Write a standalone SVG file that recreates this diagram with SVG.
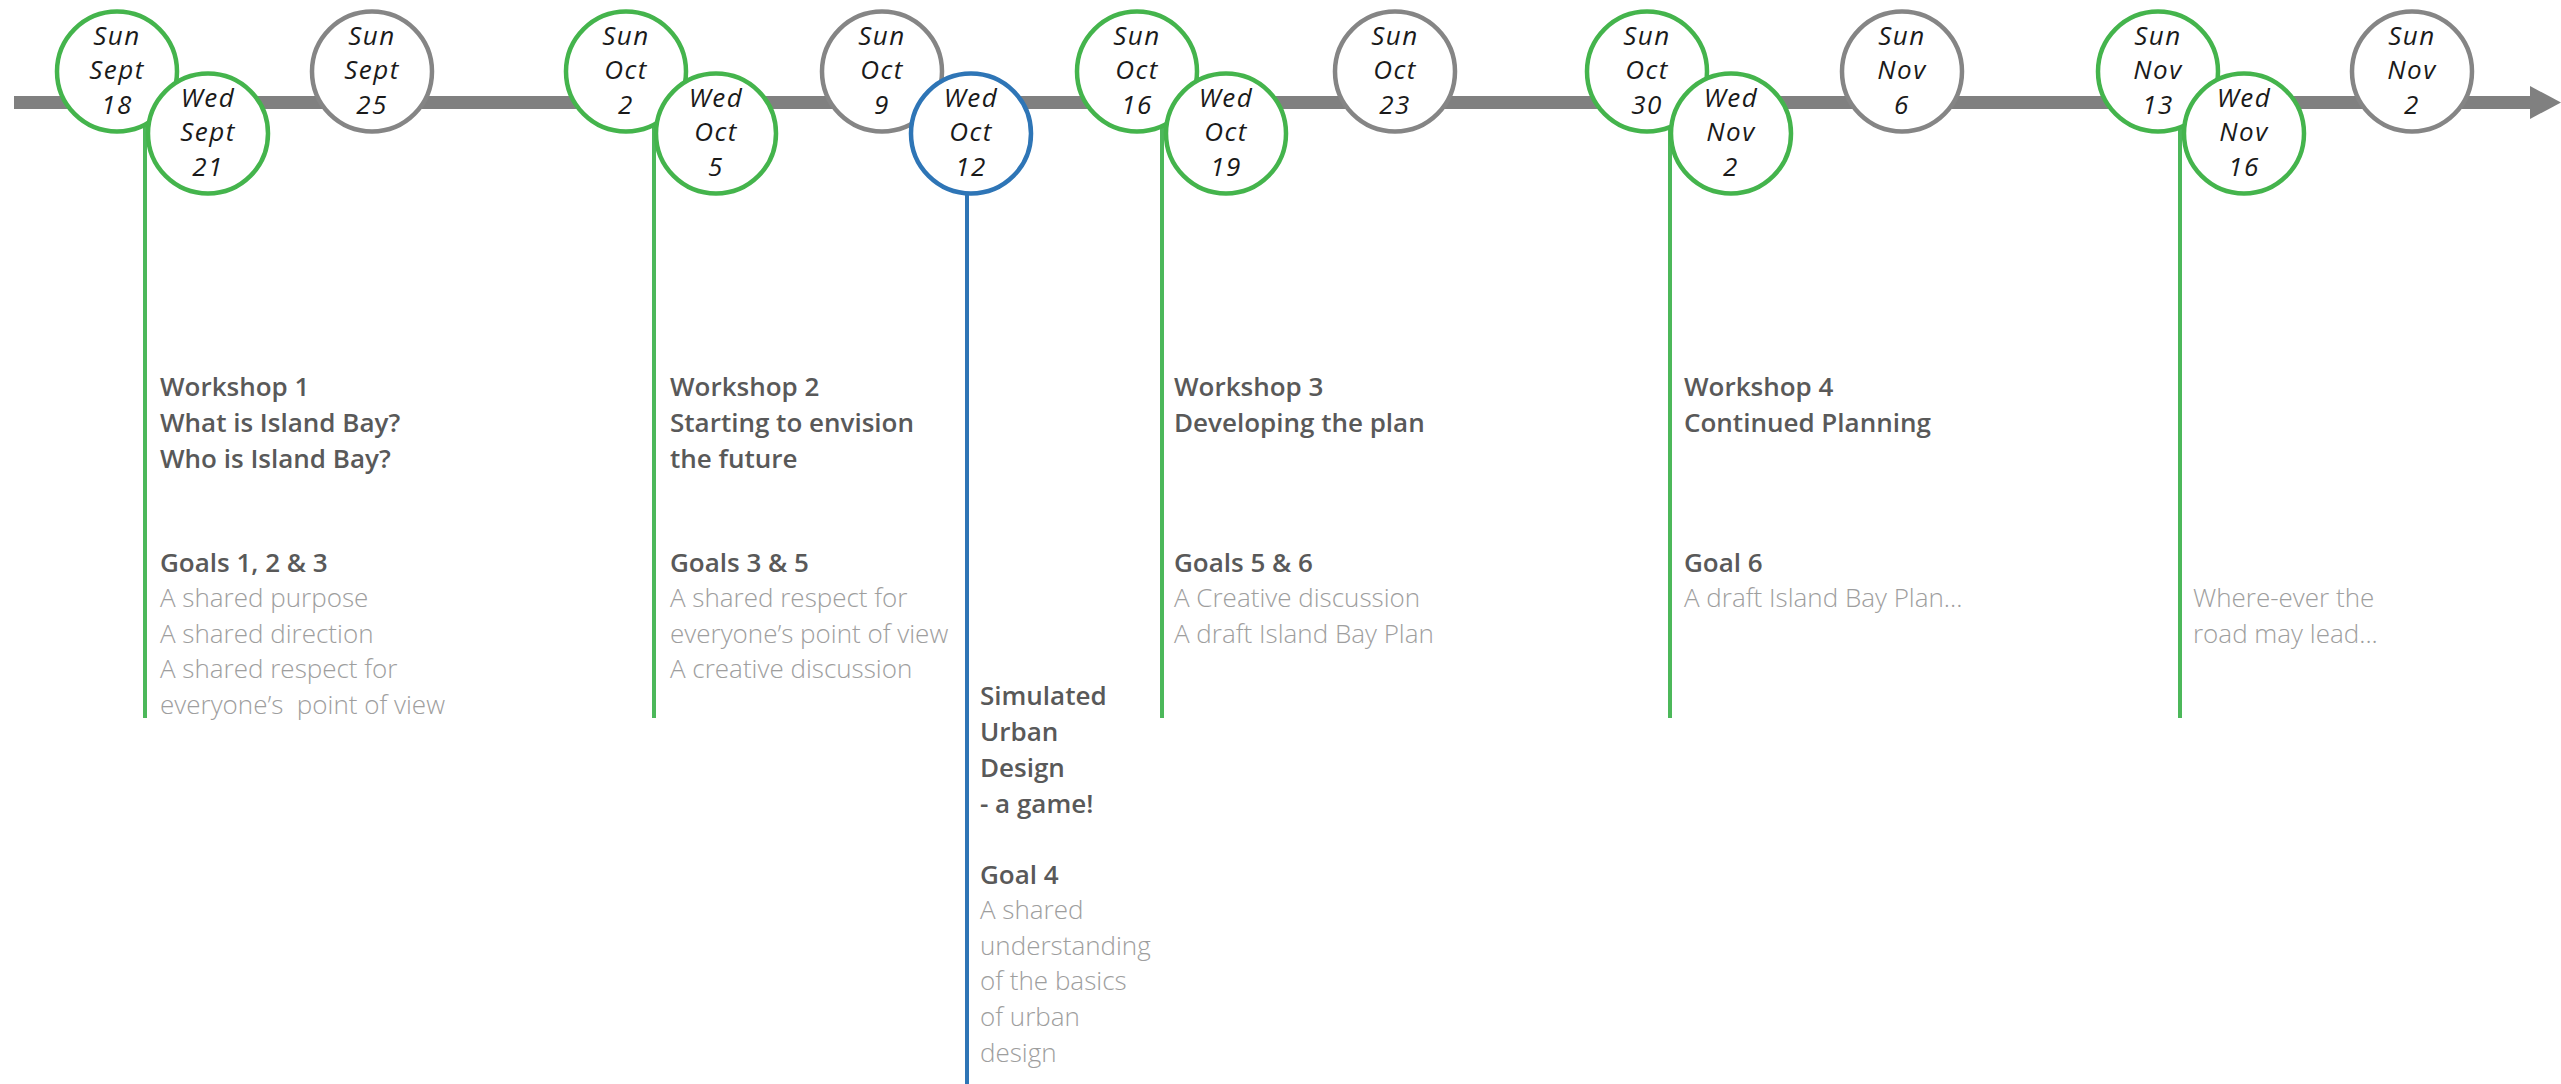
<svg xmlns="http://www.w3.org/2000/svg" width="2561" height="1084" viewBox="0 0 2561 1084">
<style>
.bg{fill:#ffffff}
.sun{fill:#ffffff;stroke:#44b44c;stroke-width:4.5}
.grey{fill:#ffffff;stroke:#858585;stroke-width:4.5}
.blue{fill:#ffffff;stroke:#2e75b6;stroke-width:4.5}
.date{font-family:"Open Sans","Noto Sans",sans-serif;font-style:italic;font-size:26px;letter-spacing:1.5px;fill:#1a1a1a;text-anchor:middle}
.h{font-family:"Open Sans","Noto Sans",sans-serif;font-weight:600;font-size:26px;fill:#595959}
.b{font-family:"Open Sans","Noto Sans",sans-serif;font-weight:300;font-size:26px;fill:#9e9e9e}
.gl{stroke:#4cb85a;stroke-width:4;fill:none}
.bl{stroke:#2e75b6;stroke-width:4;fill:none}
</style>
<rect class="bg" x="0" y="0" width="2561" height="1084"/>
<g id="connectors">
  <rect x="14" y="96" width="2524" height="13" fill="#808080"/>
  <polygon points="2530,86 2561,102.5 2530,119" fill="#808080"/>
  <line class="gl" x1="145" y1="122" x2="145" y2="718"/>
  <line class="gl" x1="654" y1="122" x2="654" y2="718"/>
  <line class="bl" x1="967" y1="190" x2="967" y2="1084"/>
  <line class="gl" x1="1162" y1="122" x2="1162" y2="718"/>
  <line class="gl" x1="1670" y1="122" x2="1670" y2="718"/>
  <line class="gl" x1="2180" y1="122" x2="2180" y2="718"/>
</g>
<g id="sun-sept-18"><circle class="sun" cx="117" cy="71.5" r="60"/><text class="date" x="117" y="45">Sun</text><text class="date" x="117" y="79">Sept</text><text class="date" x="117" y="114">18</text></g>
<g id="wed-sept-21"><circle class="sun" cx="208" cy="133.5" r="60"/><text class="date" x="208" y="107">Wed</text><text class="date" x="208" y="141">Sept</text><text class="date" x="208" y="176">21</text></g>
<g id="sun-sept-25"><circle class="grey" cx="372" cy="71.5" r="60"/><text class="date" x="372" y="45">Sun</text><text class="date" x="372" y="79">Sept</text><text class="date" x="372" y="114">25</text></g>
<g id="sun-oct-2"><circle class="sun" cx="626" cy="71.5" r="60"/><text class="date" x="626" y="45">Sun</text><text class="date" x="626" y="79">Oct</text><text class="date" x="626" y="114">2</text></g>
<g id="wed-oct-5"><circle class="sun" cx="716" cy="133.5" r="60"/><text class="date" x="716" y="107">Wed</text><text class="date" x="716" y="141">Oct</text><text class="date" x="716" y="176">5</text></g>
<g id="sun-oct-9"><circle class="grey" cx="882" cy="71.5" r="60"/><text class="date" x="882" y="45">Sun</text><text class="date" x="882" y="79">Oct</text><text class="date" x="882" y="114">9</text></g>
<g id="wed-oct-12"><circle class="blue" cx="971" cy="133.5" r="60"/><text class="date" x="971" y="107">Wed</text><text class="date" x="971" y="141">Oct</text><text class="date" x="971" y="176">12</text></g>
<g id="sun-oct-16"><circle class="sun" cx="1137" cy="71.5" r="60"/><text class="date" x="1137" y="45">Sun</text><text class="date" x="1137" y="79">Oct</text><text class="date" x="1137" y="114">16</text></g>
<g id="wed-oct-19"><circle class="sun" cx="1226" cy="133.5" r="60"/><text class="date" x="1226" y="107">Wed</text><text class="date" x="1226" y="141">Oct</text><text class="date" x="1226" y="176">19</text></g>
<g id="sun-oct-23"><circle class="grey" cx="1395" cy="71.5" r="60"/><text class="date" x="1395" y="45">Sun</text><text class="date" x="1395" y="79">Oct</text><text class="date" x="1395" y="114">23</text></g>
<g id="sun-oct-30"><circle class="sun" cx="1647" cy="71.5" r="60"/><text class="date" x="1647" y="45">Sun</text><text class="date" x="1647" y="79">Oct</text><text class="date" x="1647" y="114">30</text></g>
<g id="wed-nov-2"><circle class="sun" cx="1731" cy="133.5" r="60"/><text class="date" x="1731" y="107">Wed</text><text class="date" x="1731" y="141">Nov</text><text class="date" x="1731" y="176">2</text></g>
<g id="sun-nov-6"><circle class="grey" cx="1902" cy="71.5" r="60"/><text class="date" x="1902" y="45">Sun</text><text class="date" x="1902" y="79">Nov</text><text class="date" x="1902" y="114">6</text></g>
<g id="sun-nov-13"><circle class="sun" cx="2158" cy="71.5" r="60"/><text class="date" x="2158" y="45">Sun</text><text class="date" x="2158" y="79">Nov</text><text class="date" x="2158" y="114">13</text></g>
<g id="wed-nov-16"><circle class="sun" cx="2244" cy="133.5" r="60"/><text class="date" x="2244" y="107">Wed</text><text class="date" x="2244" y="141">Nov</text><text class="date" x="2244" y="176">16</text></g>
<g id="sun-nov-2-last"><circle class="grey" cx="2412" cy="71.5" r="60"/><text class="date" x="2412" y="45">Sun</text><text class="date" x="2412" y="79">Nov</text><text class="date" x="2412" y="114">2</text></g>
<g id="workshop-1">
  <text class="h" x="160" y="396">Workshop 1</text>
  <text class="h" x="160" y="432">What is Island Bay?</text>
  <text class="h" x="160" y="468">Who is Island Bay?</text>
  <text class="h" x="160" y="572">Goals 1, 2 &amp; 3</text>
  <text class="b" x="160" y="607">A shared purpose</text>
  <text class="b" x="160" y="643">A shared direction</text>
  <text class="b" x="160" y="678">A shared respect for</text>
  <text class="b" x="160" y="714" xml:space="preserve">everyone’s  point of view</text>
</g>
<g id="workshop-2">
  <text class="h" x="670" y="396">Workshop 2</text>
  <text class="h" x="670" y="432">Starting to envision</text>
  <text class="h" x="670" y="468">the future</text>
  <text class="h" x="670" y="572">Goals 3 &amp; 5</text>
  <text class="b" x="670" y="607">A shared respect for</text>
  <text class="b" x="670" y="643">everyone’s point of view</text>
  <text class="b" x="670" y="678">A creative discussion</text>
</g>
<g id="simulated-urban-design">
  <text class="h" x="980" y="705">Simulated</text>
  <text class="h" x="980" y="741">Urban</text>
  <text class="h" x="980" y="777">Design</text>
  <text class="h" x="980" y="813">- a game!</text>
  <text class="h" x="980" y="884">Goal 4</text>
  <text class="b" x="980" y="919">A shared</text>
  <text class="b" x="980" y="955">understanding</text>
  <text class="b" x="980" y="990">of the basics</text>
  <text class="b" x="980" y="1026">of urban</text>
  <text class="b" x="980" y="1062">design</text>
</g>
<g id="workshop-3">
  <text class="h" x="1174" y="396">Workshop 3</text>
  <text class="h" x="1174" y="432">Developing the plan</text>
  <text class="h" x="1174" y="572">Goals 5 &amp; 6</text>
  <text class="b" x="1174" y="607">A Creative discussion</text>
  <text class="b" x="1174" y="643">A draft Island Bay Plan</text>
</g>
<g id="workshop-4">
  <text class="h" x="1684" y="396">Workshop 4</text>
  <text class="h" x="1684" y="432">Continued Planning</text>
  <text class="h" x="1684" y="572">Goal 6</text>
  <text class="b" x="1684" y="607">A draft Island Bay Plan...</text>
</g>
<g id="future">
  <text class="b" x="2193" y="607">Where-ever the</text>
  <text class="b" x="2193" y="643">road may lead...</text>
</g>
</svg>
